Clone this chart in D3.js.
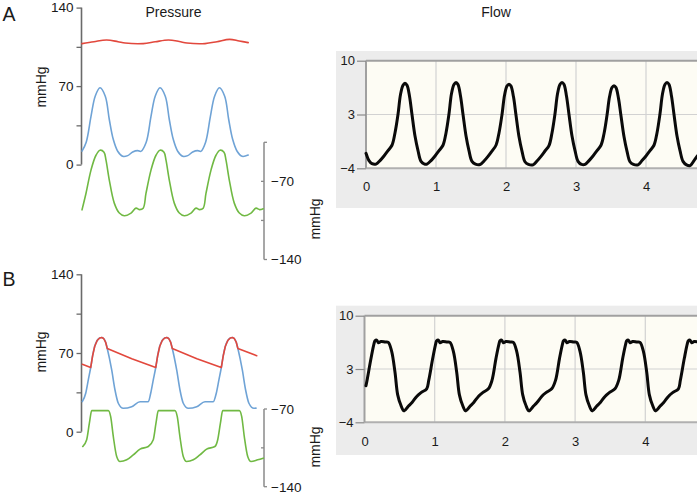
<!DOCTYPE html>
<html><head><meta charset="utf-8">
<script src="https://cdn.jsdelivr.net/npm/d3@7"></script>
<style>body{margin:0;background:#fff}svg{display:block}</style>
</head><body>
<svg id="c" width="697" height="496"></svg>
<script>
// ---------- DATA ----------
const pressLeftTicks = [0, 35, 70, 105, 140];
const pressLeftLabels = [0, 70, 140];
const rightTicksA = [-35, -70, -105, -140];
const rightTicksB = [-70, -105, -140];
const rightLabels = [-70, -140];
const flowYTicks = [-4, 3, 10];
const flowXTicks = [0, 1, 2, 3, 4];

// Panel A pressure traces: [time (s), mmHg]
const redA = [[0,107.9],[0.2,109.6],[0.41,111.1],[0.6,109.6],[0.72,108.4],[1.02,107.9],[1.22,109.5],[1.44,111.1],[1.62,109.8],[1.75,108.4],[2.05,107.9],[2.25,109.6],[2.46,111.7],[2.62,110.2],[2.77,108.8]];
const blueA = [[0,12],[0.07,20],[0.15,43],[0.22,61],[0.30,68.5],[0.388,61],[0.455,40.2],[0.522,22.3],[0.595,11.9],[0.678,7.4],[0.762,8.0],[0.845,11.3],[0.928,12.5],[0.98,11.8],[1.07,20],[1.15,43],[1.22,61],[1.30,68.5],[1.388,61],[1.455,40.2],[1.522,22.3],[1.595,11.9],[1.678,7.4],[1.762,8.0],[1.845,11.3],[1.928,12.5],[1.98,11.8],[2.06,20],[2.14,43],[2.21,61],[2.29,68.5],[2.378,61],[2.445,40.2],[2.512,22.3],[2.585,11.9],[2.668,7.4],[2.77,8.5]];
const greenA = [[0,-95.5],[0.067,-80.6],[0.15,-59.9],[0.233,-46.6],[0.30,-42.1],[0.367,-43.9],[0.40,-51.0],[0.455,-68.8],[0.538,-89.5],[0.622,-98.4],[0.705,-100.8],[0.817,-98.4],[0.90,-94.0],[0.96,-95.3],[1.02,-94.0],[1.067,-80.6],[1.15,-59.9],[1.233,-46.6],[1.30,-42.1],[1.367,-43.9],[1.40,-51.0],[1.455,-68.8],[1.538,-89.5],[1.622,-98.4],[1.705,-100.8],[1.817,-98.4],[1.90,-94.0],[1.96,-95.3],[2.02,-94.0],[2.067,-80.6],[2.15,-59.9],[2.233,-46.6],[2.30,-42.1],[2.367,-43.9],[2.40,-51.0],[2.455,-68.8],[2.538,-89.5],[2.622,-98.4],[2.705,-100.8],[2.817,-98.4],[2.90,-94.0],[2.96,-95.3],[3.02,-94.5]];

// Panel B pressure traces
const redB = [[0.005,60.0],[0.145,57.1],[0.178,67.8],[0.211,75.8],[0.253,81.1],[0.295,83.4],[0.328,83.8],[0.361,82.9],[0.395,79.4],[0.421,74.0],[0.83,64.9],[1.229,57.1],[1.262,67.8],[1.295,75.8],[1.337,81.1],[1.379,83.4],[1.412,83.8],[1.445,82.9],[1.479,79.4],[1.505,74.0],[1.915,64.9],[2.322,57.1],[2.355,67.8],[2.388,75.8],[2.43,81.1],[2.472,83.4],[2.505,83.8],[2.538,82.9],[2.572,79.4],[2.598,74.0],[2.912,67.6]];
const blueB = [[0.005,26.7],[0.062,34.2],[0.105,46.1],[0.145,57.1],[0.178,67.8],[0.211,75.8],[0.253,81.1],[0.295,83.4],[0.328,83.8],[0.361,82.9],[0.395,79.4],[0.421,74.0],[0.495,54.9],[0.55,37.1],[0.605,25.3],[0.688,20.8],[0.828,22.2],[0.967,26.7],[1.105,26.7],[1.145,34.2],[1.188,46.1],[1.229,57.1],[1.262,67.8],[1.295,75.8],[1.337,81.1],[1.379,83.4],[1.412,83.8],[1.445,82.9],[1.479,79.4],[1.505,74.0],[1.578,54.9],[1.633,37.1],[1.688,25.3],[1.772,20.8],[1.912,22.2],[2.05,26.7],[2.188,26.7],[2.238,34.2],[2.282,46.1],[2.322,57.1],[2.355,67.8],[2.388,75.8],[2.43,81.1],[2.472,83.4],[2.505,83.8],[2.538,82.9],[2.572,79.4],[2.598,74.0],[2.672,54.9],[2.727,37.1],[2.782,25.3],[2.865,20.8],[2.9,21.0]];
const greenB = [[0.012,-103.8],[0.078,-97.7],[0.123,-82.8],[0.162,-71.5],[0.438,-71.5],[0.478,-76.9],[0.522,-94.9],[0.578,-112.8],[0.633,-117.3],[0.745,-115.8],[0.855,-111.3],[0.967,-106.2],[1.105,-103.8],[1.188,-97.7],[1.233,-82.8],[1.272,-71.5],[1.548,-71.5],[1.588,-76.9],[1.632,-94.9],[1.688,-112.8],[1.743,-117.3],[1.855,-115.8],[1.965,-111.3],[2.077,-106.2],[2.215,-103.8],[2.262,-97.7],[2.307,-82.8],[2.345,-71.5],[2.622,-71.5],[2.662,-76.9],[2.705,-94.9],[2.762,-112.8],[2.817,-117.3],[2.928,-115.8],[3.022,-114.3]];

// Flow traces: [time (s), flow]
const flowA = [[0,-2.05],[0.043,-3.0],[0.086,-3.4],[0.143,-3.45],[0.2,-3.0],[0.257,-2.4],[0.314,-1.7],[0.371,-1.0],[0.414,0.6],[0.457,3.0],[0.493,5.6],[0.529,6.8],[0.557,7.05],[0.586,6.8],[0.621,5.4],[0.657,3.0],[0.7,0.2],[0.743,-1.7],[0.786,-3.1],[0.836,-3.45],
[0.871,-3.45],[0.929,-3.0],[0.986,-2.4],[1.043,-1.7],[1.1,-1.0],[1.143,0.6],[1.186,3.1],[1.221,5.7],[1.257,6.9],[1.286,7.15],[1.314,6.9],[1.35,5.4],[1.386,3.0],[1.429,0.2],[1.471,-1.7],[1.514,-3.1],[1.564,-3.45],
[1.629,-3.5],[1.686,-3.05],[1.743,-2.45],[1.8,-1.75],[1.857,-1.0],[1.9,0.6],[1.943,3.0],[1.979,5.5],[2.014,6.7],[2.043,6.95],[2.071,6.7],[2.107,5.3],[2.143,2.9],[2.186,0.1],[2.229,-1.8],[2.271,-3.15],[2.321,-3.5],
[2.386,-3.55],[2.443,-3.05],[2.5,-2.45],[2.557,-1.75],[2.614,-1.05],[2.657,0.6],[2.7,3.1],[2.736,5.7],[2.771,6.9],[2.8,7.15],[2.829,6.9],[2.864,5.4],[2.9,3.0],[2.943,0.2],[2.986,-1.7],[3.029,-3.1],[3.079,-3.5],
[3.129,-3.5],[3.186,-3.0],[3.243,-2.4],[3.3,-1.7],[3.357,-1.0],[3.4,0.5],[3.443,2.9],[3.479,5.3],[3.514,6.5],[3.543,6.75],[3.571,6.5],[3.607,5.1],[3.643,2.8],[3.686,0.1],[3.729,-1.8],[3.771,-3.15],[3.821,-3.5],
[3.886,-3.55],[3.943,-3.0],[4.0,-2.4],[4.057,-1.7],[4.114,-1.0],[4.157,0.6],[4.2,3.1],[4.236,5.7],[4.271,6.9],[4.3,7.15],[4.329,6.9],[4.364,5.4],[4.4,3.0],[4.443,0.2],[4.486,-1.7],[4.529,-3.1],[4.579,-3.55],
[4.629,-3.65],[4.686,-3.0],[4.743,-2.3],[4.8,-1.8]];
const flowB = [[0.021,0.8],[0.036,1.5],[0.093,4.4],[0.135,6.3],[0.15,6.7],[0.174,6.8],[0.197,6.45],[0.235,6.6],[0.292,6.55],[0.339,6.5],[0.387,5.3],[0.434,2.6],[0.473,-0.4],[0.516,-1.7],[0.563,-2.5],[0.624,-1.9],[0.677,-1.4],[0.744,-0.6],[0.805,-0.1],[0.886,0.4],
[0.915,1.5],[0.972,4.4],[1.014,6.3],[1.028,6.7],[1.053,6.8],[1.075,6.45],[1.114,6.6],[1.171,6.55],[1.218,6.5],[1.266,5.3],[1.313,2.6],[1.352,-0.4],[1.395,-1.7],[1.442,-2.5],[1.503,-1.9],[1.556,-1.4],[1.622,-0.6],[1.684,-0.1],[1.765,0.4],
[1.816,1.5],[1.873,4.4],[1.916,6.3],[1.93,6.7],[1.954,6.8],[1.977,6.45],[2.016,6.6],[2.073,6.55],[2.12,6.5],[2.168,5.3],[2.215,2.6],[2.254,-0.4],[2.296,-1.7],[2.343,-2.5],[2.405,-1.9],[2.457,-1.4],[2.524,-0.6],[2.585,-0.1],[2.667,0.4],
[2.721,1.5],[2.778,4.4],[2.821,6.3],[2.835,6.7],[2.86,6.8],[2.882,6.45],[2.92,6.6],[2.977,6.55],[3.024,6.5],[3.07,5.3],[3.117,2.6],[3.155,-0.4],[3.198,-1.7],[3.245,-2.5],[3.306,-1.9],[3.359,-1.4],[3.426,-0.6],[3.487,-0.1],[3.568,0.4],
[3.621,1.5],[3.678,4.4],[3.721,6.3],[3.735,6.7],[3.759,6.8],[3.782,6.45],[3.821,6.6],[3.877,6.55],[3.925,6.5],[3.973,5.3],[4.02,2.6],[4.058,-0.4],[4.101,-1.7],[4.148,-2.5],[4.209,-1.9],[4.262,-1.4],[4.329,-0.6],[4.39,-0.1],[4.472,0.4],
[4.499,1.5],[4.556,4.4],[4.598,6.3],[4.613,6.7],[4.637,6.8],[4.66,6.45],[4.698,6.6],[4.755,6.55],[4.808,6.5]];

// ---------- DRAWING ----------
const FONT = "'Liberation Sans', Arial, Helvetica, sans-serif";
const RED = "#e2483d", BLUE = "#6fa3d6", GREEN = "#70b943", AXIS = "#6a6a6a";
const svg = d3.select("#c").style("font-family", FONT);

function txt(g, x, y, s, size, anchor, rot) {
  const t = g.append("text").attr("font-size", size).attr("fill", "#1a1a1a")
    .attr("text-anchor", anchor || "start").text(s);
  if (rot) t.attr("transform", `translate(${x},${y}) rotate(${rot})`);
  else t.attr("x", x).attr("y", y);
  return t;
}

function pressurePanel(cfg) {
  const g = svg.append("g");
  const x = d3.scaleLinear().domain([0, 3]).range([82, 262]);
  const yL = d3.scaleLinear().domain([0, 140]).range(cfg.yL);
  const yR = d3.scaleLinear().domain(cfg.rDom).range(cfg.yR);
  const axL = d3.axisLeft(yL).tickValues(pressLeftTicks).tickSize(5).tickPadding(3)
    .tickFormat(d => pressLeftLabels.includes(d) ? d : "");
  const gl = g.append("g").attr("transform", "translate(81.5,0)").call(axL);
  gl.select(".domain").attr("stroke", AXIS).attr("stroke-width", 1.6).attr("d", `M0,${yL(0)}V${yL(140)}`);
  gl.selectAll(".tick line").attr("stroke", AXIS).attr("stroke-width", 1.3);
  gl.selectAll(".tick text").attr("font-size", 13.5).attr("font-family", FONT).attr("fill", "#1a1a1a");
  const ticks = cfg.rTicks, ax = 264;
  const gr = g.append("g");
  gr.append("line").attr("x1", ax).attr("x2", ax).attr("y1", yR(ticks[0])).attr("y2", yR(ticks[ticks.length - 1]))
    .attr("stroke", "#8a8a8a").attr("stroke-width", 1.5);
  ticks.forEach((t, i) => {
    const end = i === 0 || i === ticks.length - 1;
    gr.append("line").attr("x1", end ? ax : ax - 3).attr("x2", end ? ax + 3 : ax)
      .attr("y1", yR(t)).attr("y2", yR(t)).attr("stroke", "#8a8a8a").attr("stroke-width", 1.3);
    if (rightLabels.includes(t)) txt(gr, ax + 7, yR(t), "\u2212" + Math.abs(t), 13.5).attr("dy", "0.36em");
  });
  txt(g, 45.5, cfg.mmL, "mmHg", 14, "middle", -90);
  txt(g, 320, cfg.mmR, "mmHg", 14, "middle", -90);
  txt(g, 2.5, cfg.letterY, cfg.letter, 19.5);
  const lineL = c => d3.line().x(d => x(d[0])).y(d => yL(d[1])).curve(c);
  const lineR = c => d3.line().x(d => x(d[0])).y(d => yR(d[1])).curve(c);
  cfg.traces.forEach(tr => {
    g.append("path").attr("d", (tr.right ? lineR(tr.curve) : lineL(tr.curve))(tr.data))
      .attr("fill", "none").attr("stroke", tr.color).attr("stroke-width", 1.6)
      .attr("stroke-linejoin", "round").attr("stroke-linecap", "round");
  });
}

pressurePanel({
  yL: [164.6, 7.6], rDom: [-35, -140], yR: [142.3, 259.5], rTicks: rightTicksA,
  mmL: 87, mmR: 219, letter: "A", letterY: 21,
  traces: [
    { data: redA, color: RED, curve: d3.curveCatmullRom },
    { data: blueA, color: BLUE, curve: d3.curveCatmullRom },
    { data: greenA, color: GREEN, curve: d3.curveCatmullRom, right: true }
  ]
});
pressurePanel({
  yL: [431.7, 274.3], rDom: [-70, -140], yR: [409, 486.7], rTicks: rightTicksB,
  mmL: 352, mmR: 447, letter: "B", letterY: 285.5,
  traces: [
    { data: blueB, color: BLUE, curve: d3.curveMonotoneX },
    { data: greenB, color: GREEN, curve: d3.curveMonotoneX, right: true },
    { data: redB, color: RED, curve: d3.curveLinear }
  ]
});

txt(svg, 173.5, 16.5, "Pressure", 14, "middle");
txt(svg, 496, 16.5, "Flow", 14, "middle");

function flowPanel(cfg) {
  const g = svg.append("g");
  g.append("rect").attr("x", 336).attr("y", cfg.bg[0]).attr("width", 400).attr("height", cfg.bg[1] - cfg.bg[0]).attr("fill", "#ececec");
  const x = d3.scaleLinear().domain([0, 5]).range([cfg.x0, cfg.x0 + 5 * cfg.dx]);
  const y = d3.scaleLinear().domain([-4, 10]).range(cfg.yr);
  g.append("rect").attr("x", x(0)).attr("y", y(10)).attr("width", 740 - x(0)).attr("height", y(-4) - y(10)).attr("fill", "#fdfcf4");
  g.selectAll(".vg").data(flowXTicks.filter(d => d > 0)).join("line")
    .attr("x1", d => x(d)).attr("x2", d => x(d)).attr("y1", y(10)).attr("y2", y(-4))
    .attr("stroke", "#d2d2d2").attr("stroke-width", 1.2);
  g.append("line").attr("x1", x(0)).attr("x2", 740).attr("y1", y(3)).attr("y2", y(3)).attr("stroke", "#d2d2d2").attr("stroke-width", 1.2);
  g.append("line").attr("x1", x(0)).attr("x2", 740).attr("y1", y(10)).attr("y2", y(10)).attr("stroke", "#a0a0a0").attr("stroke-width", 2);
  g.append("line").attr("x1", x(0)).attr("x2", 740).attr("y1", y(-4)).attr("y2", y(-4)).attr("stroke", "#b0b0b0").attr("stroke-width", 2);
  g.append("line").attr("x1", x(0)).attr("x2", x(0)).attr("y1", y(10)).attr("y2", y(-4)).attr("stroke", "#a0a0a0").attr("stroke-width", 2);
  const ay = g.append("g").attr("transform", `translate(${x(0)},0)`)
    .call(d3.axisLeft(y).tickValues(flowYTicks).tickSize(9).tickPadding(2).tickFormat(d => d < 0 ? "\u2212" + Math.abs(d) : d));
  ay.select(".domain").remove();
  ay.selectAll(".tick line").attr("stroke", "#8a8a8a").attr("stroke-width", 1.2);
  ay.selectAll(".tick text").attr("font-size", 13).attr("font-family", FONT).attr("fill", "#1a1a1a");
  const axx = g.append("g").attr("transform", `translate(0,${y(-4)})`)
    .call(d3.axisBottom(x).tickValues(flowXTicks).tickSize(0).tickPadding(cfg.xpad).tickFormat(d3.format("d")));
  axx.select(".domain").remove();
  axx.selectAll(".tick text").attr("font-size", 13).attr("font-family", FONT).attr("fill", "#1a1a1a");
  g.append("path").datum(cfg.data)
    .attr("d", d3.line().x(d => x(d[0])).y(d => y(d[1])).curve(d3.curveCatmullRom))
    .attr("fill", "none").attr("stroke", "#0a0a0a").attr("stroke-width", 3)
    .attr("stroke-linejoin", "round").attr("stroke-linecap", "round");
}

flowPanel({ bg: [51, 208], x0: 366, dx: 70, yr: [168.3, 60.7], xpad: 13.5, data: flowA });
flowPanel({ bg: [305.7, 455], x0: 364.5, dx: 70.2, yr: [422.3, 315.7], xpad: 14.5, data: flowB });
</script>
</body></html>
